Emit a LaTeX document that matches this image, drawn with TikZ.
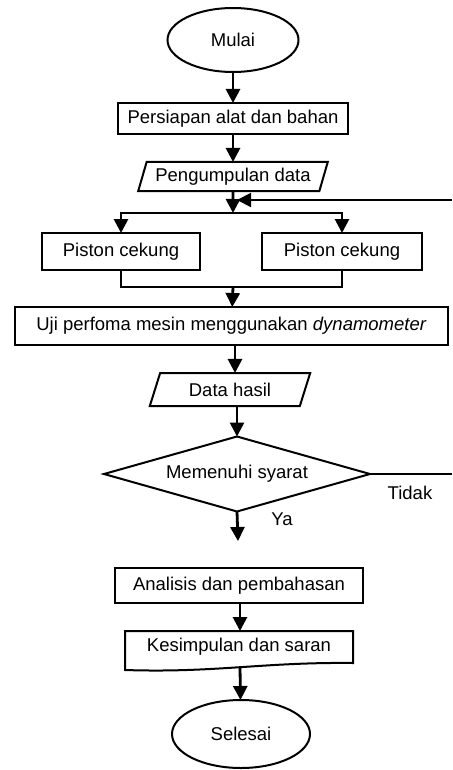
\documentclass[tikz,border=0pt]{standalone}
\usepackage{fontspec}
\setmainfont{Liberation Sans}
\usetikzlibrary{shapes.geometric, arrows.meta, calc}
\tikzset{
    x=1pt, y=-1pt, % pixel-like coordinates, y grows downwards
    >={Triangle[width=14pt,length=14pt]}, % filled arrow heads
    every node/.style={font=\fontsize{18.5}{22}\selectfont, outer sep=0pt}, % text of every node
    terminal/.style={ellipse, draw, line width=2pt}, % start and end
    process/.style={rectangle, draw, line width=2pt, inner sep=2pt}, % steps
    io/.style={trapezium, trapezium left angle=70, trapezium right angle=110,
        trapezium stretches=true, draw, line width=2pt, inner sep=2pt}, % data
    decision/.style={diamond, draw, line width=2pt, shape aspect=3.5, inner sep=0pt}, % test
    flow/.style={->, line width=2.8pt}, % main arrows
    branch/.style={line width=2pt}, % thin lines
}
\begin{document}
\begin{tikzpicture}
    \useasboundingbox (0,0) rectangle (452,770);
    \node[terminal, minimum width=131pt, minimum height=64pt] (mulai) at (233,40) {Mulai};
    \node[process, minimum width=230pt, minimum height=31pt] (persiapan) at (233,118.5) {Persiapan alat dan bahan};
    \node[io, minimum width=190pt, minimum height=29pt] (kumpul) at (233,176.5) {Pengumpulan data};
    \node[process, minimum width=158pt, minimum height=37pt] (pistonA) at (121,251.5) {Piston cekung};
    \node[process, minimum width=160pt, minimum height=37pt] (pistonB) at (342,251.5) {Piston cekung};
    \node[process, minimum width=433pt, minimum height=38pt] (uji) at (231.5,326) {Uji perfoma mesin menggunakan \textit{dynamometer}};
    \node[io, minimum width=162pt, minimum height=33pt] (hasil) at (230,389.5) {Data hasil};
    \node[decision, minimum width=266pt, minimum height=75pt] (syarat) at (237,474) {Memenuhi syarat};
    \node (tidak) at (410,493) {Tidak};
    \node (ya) at (282,519) {Ya};
    \node[process, minimum width=248pt, minimum height=35pt] (analisis) at (239,585.5) {Analisis dan pembahasan};
    \node[minimum width=228pt, minimum height=32pt] (simpul) at (239,647) {Kesimpulan dan saran};
    \node[terminal, minimum width=138pt, minimum height=68pt] (selesai) at (241,734) {Selesai};
    % document shape
    \draw[branch] (simpul.north west) -- (simpul.north east) -- (simpul.south east)
        .. controls +(-90,-1) and +(90,3) .. ([yshift=-7pt]simpul.south west) -- cycle;
    \coordinate (split) at (233,213);
    \coordinate (merge) at (233,287);
    \coordinate (loopin) at (452,200);
    \coordinate (loopend) at (237,200);
    \coordinate (tidakend) at (452,474);
    \coordinate (yaend) at (238,541);
    \draw[flow] (mulai) -- (persiapan);
    \draw[flow] (persiapan) -- (kumpul);
    \draw[flow] (kumpul) -- (split);
    \draw[flow, line width=2pt] (loopin) -- (loopend);
    \draw[branch] (split) -| ($(pistonA.north)+(0,-14)$);
    \draw[branch] (split) -| ($(pistonB.north)+(0,-14)$);
    \draw[flow] ($(pistonA.north)+(0,-16)$) -- (pistonA);
    \draw[flow] ($(pistonB.north)+(0,-16)$) -- (pistonB);
    \draw[branch] (pistonA) |- (merge) -| (pistonB);
    \draw[flow] (merge) -- (uji);
    \draw[flow] (uji.south -| 235,0) -- (hasil.north -| 235,0);
    \draw[flow] (hasil.south -| 237,0) -- (syarat);
    \draw[branch] (syarat.east) -- (tidakend);
    \draw[flow] (syarat.south) -- (yaend);
    \draw[flow] (analisis.south -| 240,0) -- (simpul.north -| 240,0);
    \draw[flow] ([yshift=-4pt]simpul.south -| 240,0) -- (selesai);
\end{tikzpicture}
\end{document}
